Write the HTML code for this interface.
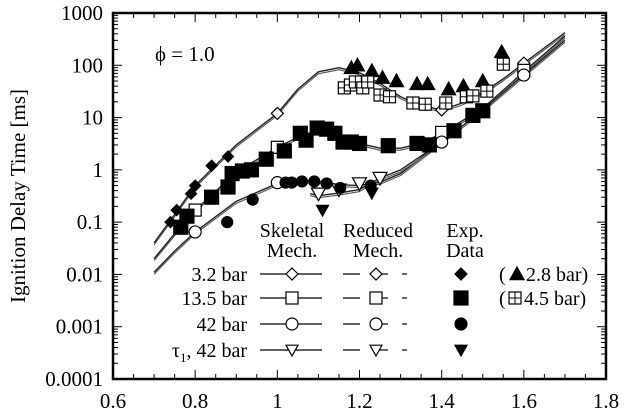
<!DOCTYPE html>
<html><head><meta charset="utf-8"><style>
html,body{margin:0;padding:0;background:#fff;}
svg{display:block;font-family:"Liberation Serif",serif;}
</style></head><body>
<svg id="s" width="624" height="416" xmlns="http://www.w3.org/2000/svg"></svg>
<script>
const S=document.getElementById('s');
const L=113,R=606,T=13,B=379;
const X=v=>L+(v-0.6)*(R-L)/1.2;
const Y=t=>T+(3-Math.log10(t))*(B-T)/7;
let h='';
for(let i=0;i<=24;i++){const v=0.6+i*0.05,x=X(v),len=(i%4==0)?9:5;
 h+=`<line x1="${x}" y1="${B}" x2="${x}" y2="${B-len}" stroke="#000"/><line x1="${x}" y1="${T}" x2="${x}" y2="${T+len}" stroke="#000"/>`;}
for(let e=-4;e<3;e++){for(let m=1;m<10;m++){const y=Y(m*Math.pow(10,e));const len=m==1?9:5;
 h+=`<line x1="${L}" y1="${y}" x2="${L+len}" y2="${y}" stroke="#000"/><line x1="${R}" y1="${y}" x2="${R-len}" y2="${y}" stroke="#000"/>`;}}
['0.6','0.8','1','1.2','1.4','1.6','1.8'].forEach((s,i)=>{h+=`<text x="${X(0.6+i*0.2)}" y="${B+29}" font-size="21" text-anchor="middle">${s}</text>`;});
['0.0001','0.001','0.01','0.1','1','10','100','1000'].forEach((s,i)=>{h+=`<text x="${L-10}" y="${Y(Math.pow(10,i-4))+7}" font-size="21" text-anchor="end">${s}</text>`;});
h+=`<text transform="translate(25,196) rotate(-90)" font-size="21" text-anchor="middle">Ignition Delay Time [ms]</text>`;
h+=`<text x="155" y="61" font-size="21">ϕ = 1.0</text>`;
function curve(pts,dy,col,w){let p=pts.map(q=>X(q[0])+','+(Y(q[1])+dy)).join(' ');return `<polyline points="${p}" fill="none" stroke="${col}" stroke-width="${w}" stroke-linejoin="round"/>`;}
const c32=[[0.7,0.04],[0.75,0.14],[0.8,0.5],[0.9,3],[1.0,12],[1.05,35],[1.1,75],[1.15,90],[1.2,72],[1.25,45],[1.3,25],[1.35,17],[1.4,14],[1.45,19],[1.5,30],[1.55,55],[1.6,110],[1.7,420]];
const c135=[[0.7,0.02],[0.75,0.06],[0.8,0.17],[0.9,0.9],[1.0,2.7],[1.05,4.2],[1.1,5.5],[1.15,4.2],[1.2,3.2],[1.25,2.6],[1.3,2.6],[1.35,3.2],[1.4,5],[1.5,15],[1.6,75],[1.7,360]];
const c42=[[0.7,0.011],[0.75,0.028],[0.8,0.065],[0.9,0.25],[1.0,0.55],[1.05,0.62],[1.1,0.6],[1.15,0.52],[1.2,0.5],[1.25,0.58],[1.3,0.85],[1.4,3.4],[1.5,14],[1.6,65],[1.7,300]];
const ct=[[1.08,0.35],[1.1,0.32],[1.15,0.36],[1.2,0.42],[1.25,0.7],[1.3,1.0],[1.4,3.4]];
[c32,c135,c42,ct].forEach(c=>{h+=curve(c,0,'#222',1.4);h+=curve(c,2,'#555',1.1);});
function dia(x,y,f,r=6){return `<polygon points="${x},${y-r} ${x+r},${y} ${x},${y+r} ${x-r},${y}" fill="${f}" stroke="#000" stroke-width="1.2"/>`;}
function sq(x,y,f,r=6){return `<rect x="${x-r}" y="${y-r}" width="${2*r}" height="${2*r}" fill="${f}" stroke="#000" stroke-width="1.2"/>`;}
function ci(x,y,f,r=6){return `<circle cx="${x}" cy="${y}" r="${r}" fill="${f}" stroke="#000" stroke-width="1.2"/>`;}
function tu(x,y,f,r=7){return `<polygon points="${x},${y-r} ${x+r},${y+r*0.8} ${x-r},${y+r*0.8}" fill="${f}" stroke="#000" stroke-width="1.2"/>`;}
function td(x,y,f,r=7){return `<polygon points="${x},${y+r} ${x+r},${y-r*0.8} ${x-r},${y-r*0.8}" fill="${f}" stroke="#000" stroke-width="1.2"/>`;}
function hs(x,y,r=6){return sq(x,y,'#fff',r)+`<line x1="${x-r}" y1="${y}" x2="${x+r}" y2="${y}" stroke="#000"/><line x1="${x}" y1="${y-r}" x2="${x}" y2="${y+r}" stroke="#000"/>`;}
const P=(f,arr,...a)=>arr.forEach(q=>{h+=f(X(q[0]),Y(q[1]),...a);});
P(dia,[[1.0,12],[1.4,14],[1.6,110]],'#fff');
P(sq,[[0.8,0.17],[1.0,2.7],[1.4,5.2],[1.6,80]],'#fff');
P(ci,[[0.8,0.065],[1.0,0.57],[1.4,3.4],[1.6,65]],'#fff');
P(td,[[1.1,0.35],[1.15,0.42],[1.2,0.55],[1.25,0.7]],'#fff');
P(dia,[[0.74,0.1],[0.755,0.17],[0.79,0.35],[0.8,0.5],[0.84,1.2],[0.88,1.8]],'#000',5.5);
P(tu,[[1.18,89],[1.195,100],[1.23,78],[1.256,58],[1.29,50],[1.34,44],[1.366,44],[1.417,35],[1.453,40],[1.5,50],[1.546,180]],'#000');
[[1.163,37],[1.178,42],[1.19,48],[1.208,37],[1.22,48],[1.25,27],[1.273,25],[1.33,19],[1.36,18],[1.41,19],[1.46,25],[1.476,26],[1.51,32],[1.55,105]].forEach(q=>{h+=hs(X(q[0]),Y(q[1]));});
P(sq,[[0.765,0.08],[0.78,0.13],[0.84,0.3],[0.88,0.47],[0.89,0.85],[0.915,0.95],[0.937,1.0],[0.973,1.6],[1.017,2.3],[1.056,5],[1.07,3.7],[1.097,6.3],[1.12,6],[1.14,5],[1.16,3.4],[1.18,3.4],[1.2,3.2],[1.27,2.9],[1.34,3.2],[1.37,3.0],[1.43,5.6],[1.476,11],[1.5,13.5]],'#000',7);
P(ci,[[0.878,0.1],[0.94,0.27],[1.02,0.57],[1.035,0.57],[1.06,0.6],[1.09,0.6],[1.12,0.55],[1.153,0.45],[1.227,0.5]],'#000',5.5);
P(td,[[1.11,0.17],[1.23,0.36]],'#000',6);
h+=`<g font-size="20" text-anchor="middle"><text x="292" y="237">Skeletal</text><text x="292" y="257">Mech.</text><text x="378" y="237">Reduced</text><text x="378" y="257">Mech.</text><text x="465" y="237">Exp.</text><text x="465" y="257">Data</text></g>`;
const rows=[[274,'3.2 bar',dia,dia],[298,'13.5 bar',sq,sq],[324,'42 bar',ci,ci],[350,'τ<tspan font-size="13" dy="5">1</tspan><tspan dy="-5">, 42 bar</tspan>',td,td]];
rows.forEach(r=>{const y=r[0];
 h+=`<text x="247" y="${y+7}" font-size="20" text-anchor="end">${r[1]}</text>`;
 h+=`<line x1="260" y1="${y}" x2="322" y2="${y}" stroke="#000" stroke-width="1.2"/>`+r[2](292,y,'#fff',6);
 h+=`<line x1="343" y1="${y}" x2="360" y2="${y}" stroke="#000" stroke-width="1.2"/><line x1="372" y1="${y}" x2="388" y2="${y}" stroke="#000" stroke-width="1.2"/><line x1="402" y1="${y}" x2="407" y2="${y}" stroke="#000" stroke-width="1.2"/>`+r[3](376,y,'#fff',6);
 h+=r[3](461,y,'#000',r[3]===sq?7:6);
});
h+=`<text x="499" y="281" font-size="20">(</text>`+tu(517,274,'#000',7)+`<text x="526" y="281" font-size="20">2.8 bar)</text>`;
h+=`<text x="499" y="305" font-size="20">(</text>`+hs(515,298,6)+`<text x="524" y="305" font-size="20">4.5 bar)</text>`;
h+=`<rect x="${L}" y="${T}" width="${R-L}" height="${B-T}" fill="none" stroke="#000" stroke-width="2.5"/>`;
S.innerHTML=h;
</script>
</body></html>
